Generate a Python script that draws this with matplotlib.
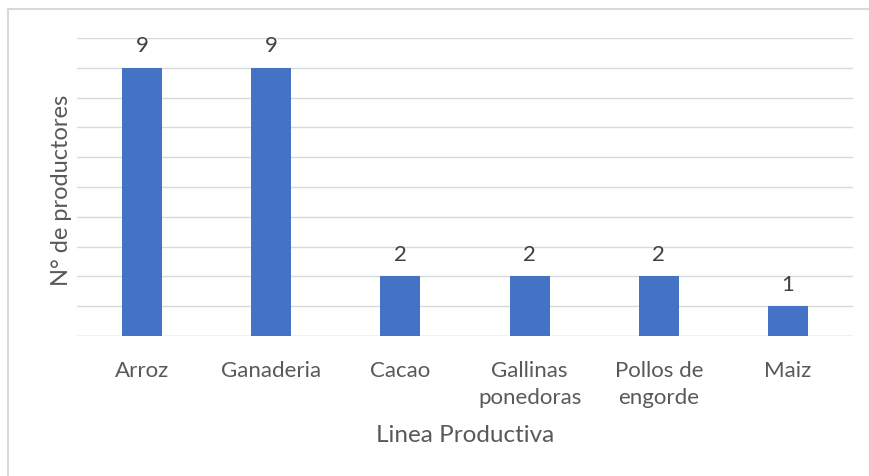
import matplotlib
matplotlib.use("Agg")
import matplotlib.pyplot as plt
from matplotlib.lines import Line2D

categories = ["Arroz", "Ganaderia", "Cacao", "Gallinas\nponedoras", "Pollos de\nengorde", "Maiz"]
values = [9, 9, 2, 2, 2, 1]

plt.rcParams['font.family'] = ['Lato', 'DejaVu Sans']
W, H = 870, 477
fig = plt.figure(figsize=(W/100, H/100), dpi=100)
ax = fig.add_axes([77.5/W, 1-337/H, (852.6-77.5)/W, (337-39)/H])

x = range(len(categories))
ax.bar(x, values, width=0.31, color="#4472C4", zorder=3)
ax.set_xlim(-0.5, len(categories)-0.5)
ax.set_ylim(0, 10)
ax.set_yticks(range(0, 11))
ax.set_yticklabels([])
ax.tick_params(axis='y', length=0)
ax.tick_params(axis='x', length=0, pad=17, labelsize=16, labelcolor="#595959")
ax.set_xticks(list(x))
ax.set_xticklabels(categories, linespacing=1.45)
ax.grid(axis='y', color="#D9D9D9", linewidth=1, zorder=0)
for s in ax.spines.values():
    s.set_visible(False)
ax.axhline(0, color="#D9D9D9", linewidth=1, zorder=2)

for xi, v in zip(x, values):
    ax.annotate(str(v), (xi, v), xytext=(0, 9), textcoords="offset points",
                ha="center", va="bottom", fontsize=16, color="#404040")

fig.text(61/W, 1-190/H, "N° de productores", rotation=90, ha="center", va="center",
         fontsize=17, color="#595959")
fig.text(465/W, 1-436/H, "Linea Productiva", ha="center", va="center",
         fontsize=17.5, color="#595959")

fig.add_artist(Line2D([8.5/W, 8.5/W], [0, 1-10/H], color="#D9D9D9", linewidth=1.5, transform=fig.transFigure))
fig.add_artist(Line2D([8.5/W, 1], [1-10/H, 1-10/H], color="#D9D9D9", linewidth=1.5, transform=fig.transFigure))

fig.savefig("out.png", dpi=100)
